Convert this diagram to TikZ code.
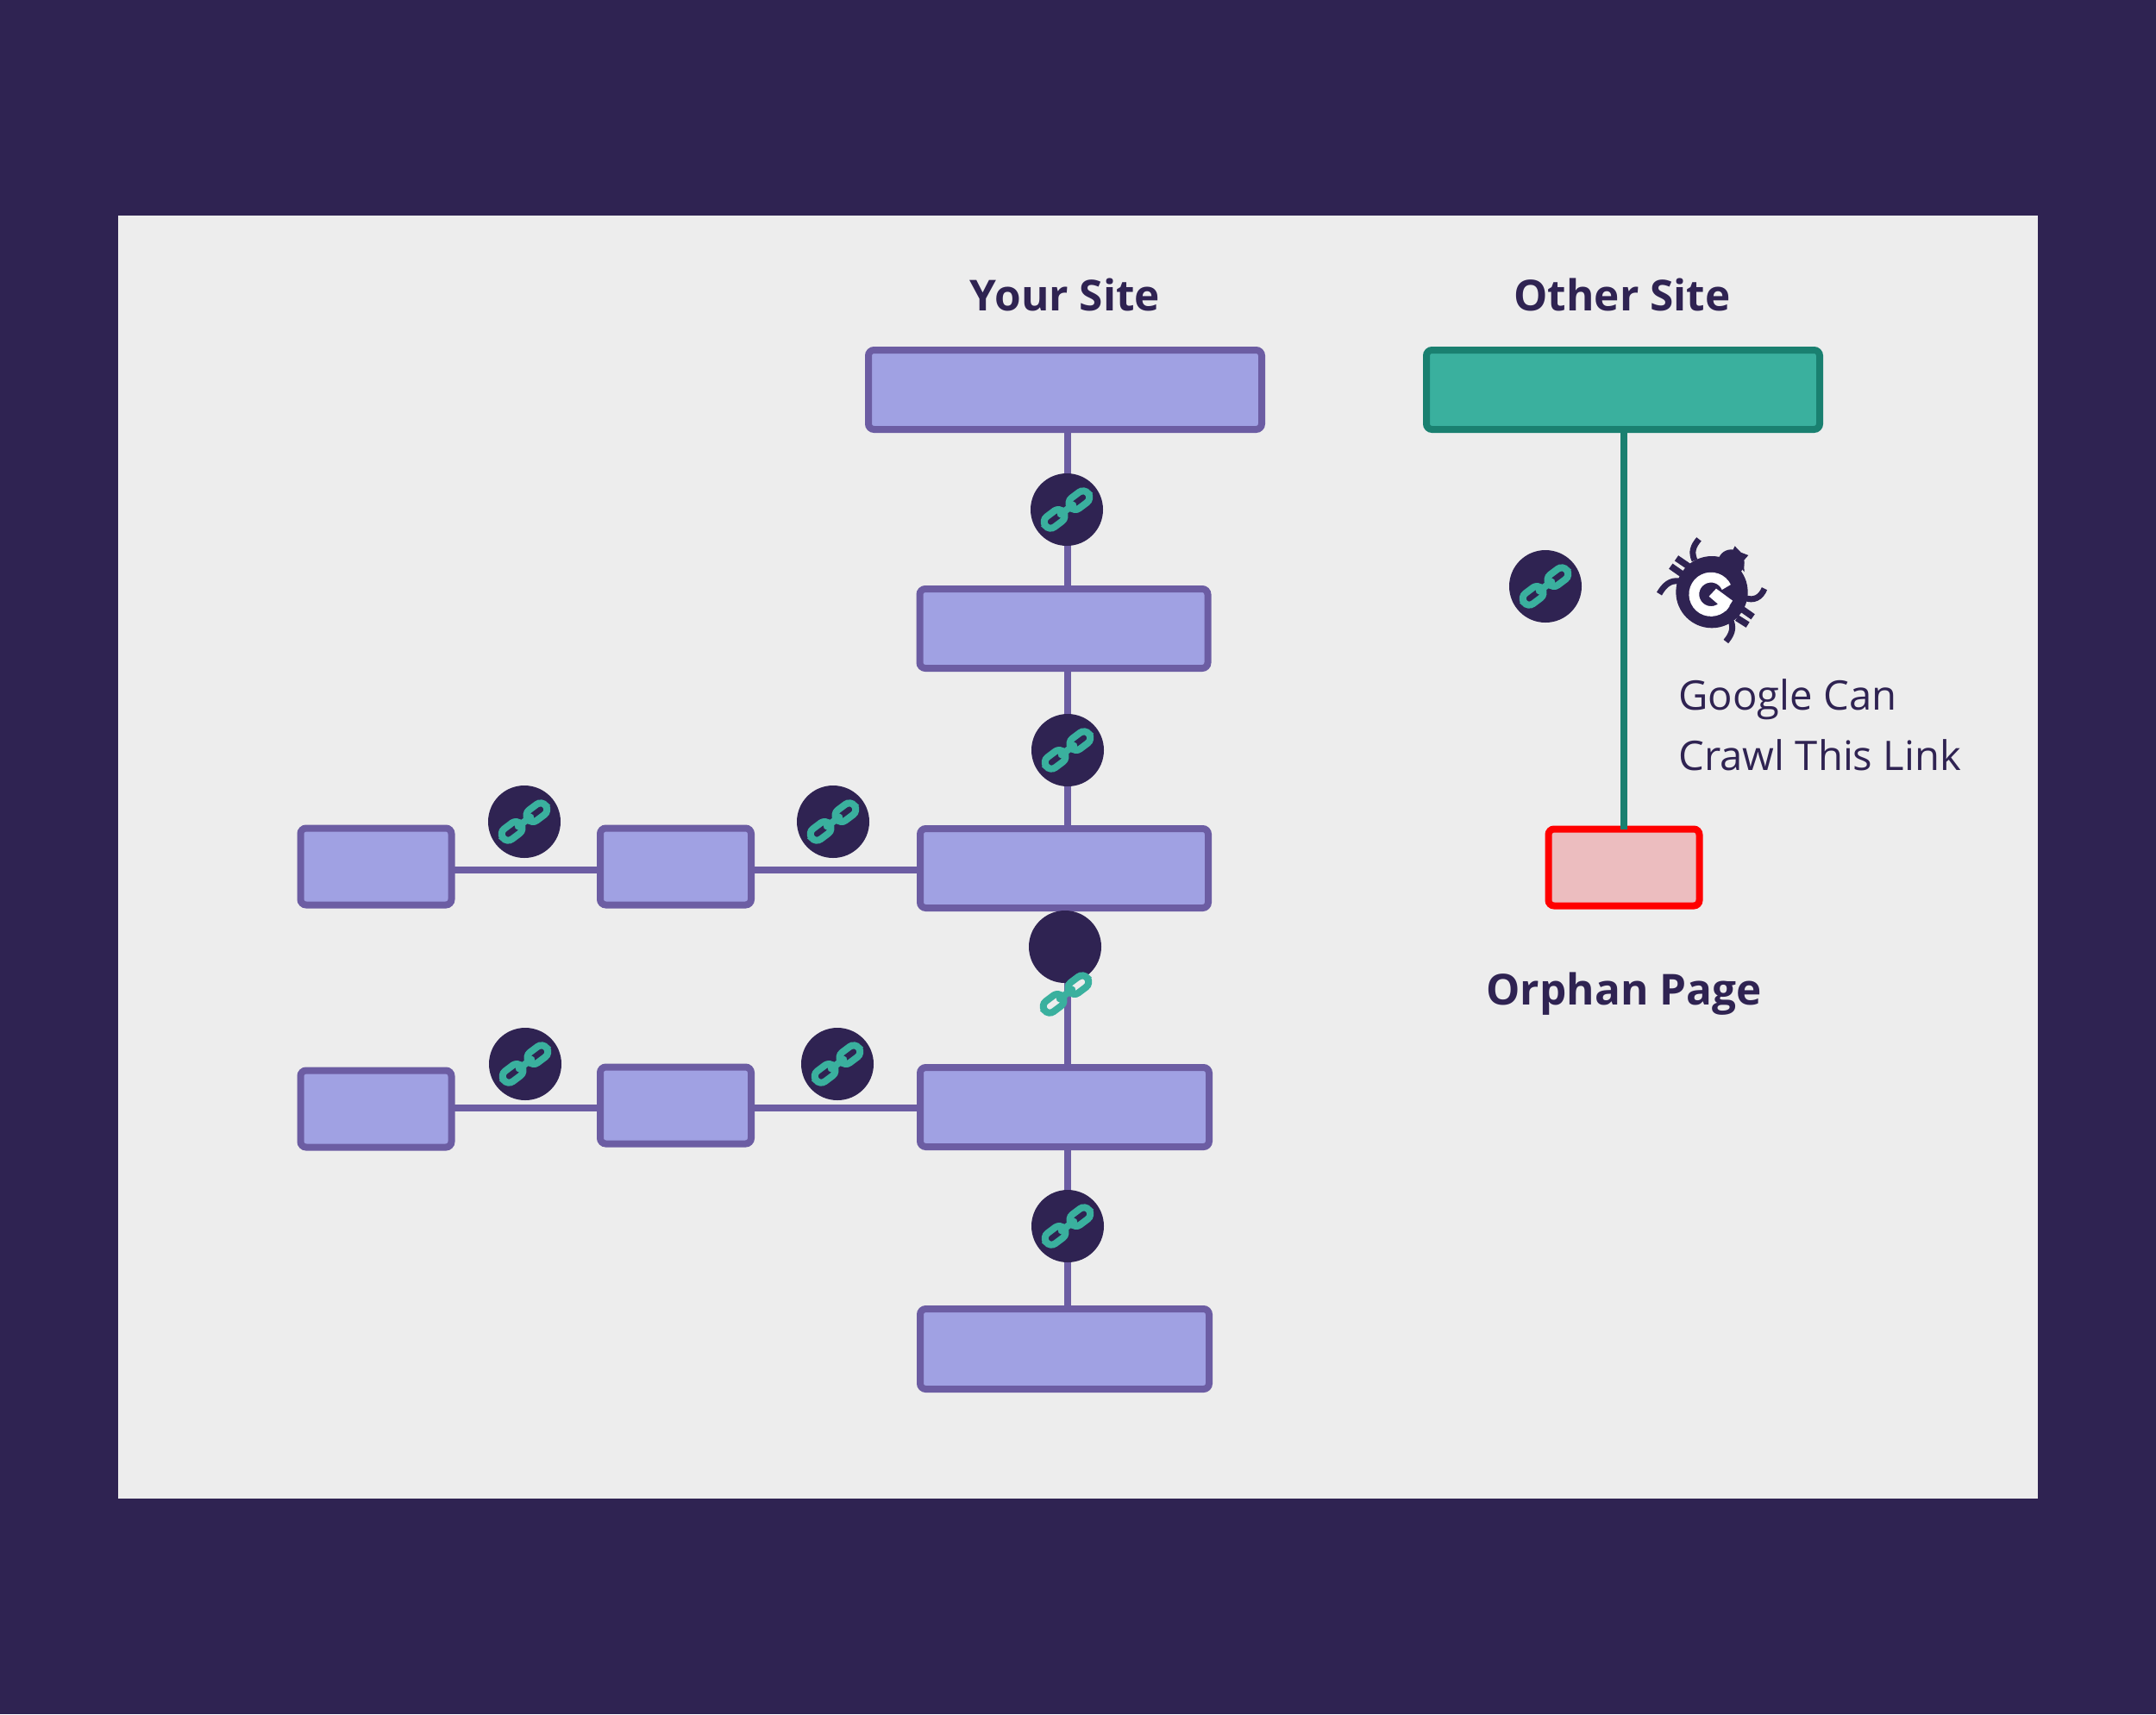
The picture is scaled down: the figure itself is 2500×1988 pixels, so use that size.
\documentclass[tikz,border=0pt]{standalone}
\usepackage{fontspec}
\setmainfont{Open Sans}
\definecolor{bgc}{HTML}{2F2352}
\definecolor{panelc}{HTML}{EDEDED}
\definecolor{boxf}{HTML}{A0A1E3}
\definecolor{boxs}{HTML}{6C5DA3}
\definecolor{teal1}{HTML}{3AB09E}
\definecolor{teal2}{HTML}{1A8070}
\definecolor{orphf}{HTML}{ECBDBF}
\tikzset{
 pagebox/.style={draw=boxs,fill=boxf,line width=3.2pt,rounded corners=2.6pt,inner sep=0pt,outer sep=0pt},
 otherbox/.style={pagebox,draw=teal2,fill=teal1},
 orphanbox/.style={pagebox,draw=red,fill=orphf},
 linkline/.style={draw=boxs,line width=3.2pt},
 otherline/.style={draw=teal2,line width=3.2pt},
 disc/.style={circle,fill=bgc,minimum size=33.6pt,inner sep=0pt,outer sep=0pt},
 title/.style={anchor=base,text=bgc,font=\fontsize{19.8}{24}\selectfont\bfseries},
 note/.style={anchor=base west,inner sep=0pt,text=bgc,font=\fontsize{18.9}{22}\selectfont},
 chain/.pic={
  \begin{scope}[rotate=37]
   \draw[teal1,line width=3.2pt,rounded corners=3pt] (5,-7.5) rectangle (31,7.5);
   \draw[teal1,line width=3.2pt,rounded corners=3pt] (-31,-7.5) rectangle (-5,7.5);
   \draw[teal1,line width=3.2pt,line cap=round] (-9,0) -- (9,0);
  \end{scope}
 }
}
\begin{document}
\begin{tikzpicture}[x=0.4pt,y=-0.4pt]
\useasboundingbox (0,0) rectangle (2500,1988);
\fill[bgc] (0,0) rectangle (2500,1988);
\fill[panelc] (137,250) rectangle (2363,1738);
% boxes
\newcommand{\pbox}[6]{\node[#1,minimum width=#5*0.4pt,minimum height=#6*0.4pt] (#2) at (#3,#4) {};}
\pbox{pagebox}{a}{1235}{452}{456}{92}
\pbox{pagebox}{b}{1233.5}{729}{334}{92}
\pbox{pagebox}{c}{1234}{1007}{334}{92}
\pbox{pagebox}{c1}{436}{1005}{175}{89}
\pbox{pagebox}{c2}{783.5}{1005}{175}{89}
\pbox{pagebox}{d}{1234.5}{1284}{335}{92}
\pbox{pagebox}{d1}{436}{1286}{175}{89}
\pbox{pagebox}{d2}{783.5}{1282}{175}{89}
\pbox{pagebox}{e}{1234.5}{1564.5}{335}{93}
\pbox{otherbox}{o}{1882}{452}{456}{92}
\pbox{orphanbox}{p}{1883}{1006}{175}{89}
% connectors
\coordinate (vx) at (1238,0);
\coordinate (hc) at (0,1009);
\coordinate (hd) at (0,1285);
\coordinate (gx) at (1883,0);
\draw[linkline] (a.south -| vx) -- (b.north -| vx);
\draw[linkline] (b.south -| vx) -- (c.north -| vx);
\draw[linkline] (c.south -| vx) -- (d.north -| vx);
\draw[linkline] (d.south -| vx) -- (e.north -| vx);
\draw[linkline] (c1.east |- hc) -- (c2.west |- hc);
\draw[linkline] (c2.east |- hc) -- (c.west |- hc);
\draw[linkline] (d1.east |- hd) -- (d2.west |- hd);
\draw[linkline] (d2.east |- hd) -- (d.west |- hd);
\draw[otherline] (o.south -| gx) -- (p.north -| gx);
% link discs
\foreach \n/\x/\y in {k1/1237/591,k2/1238/870,k3/608/953,k4/966/953,k5/609/1234,k6/971/1234,k7/1238/1422,k8/1792/680}{
  \node[disc] (\n) at (\x,\y) {};
  \pic at (\n) {chain};
}
\node[disc] (k9) at (1235,1098) {};
\coordinate (k9c) at (1236,1153);
\pic at (k9c) {chain};
% crawler
\begin{scope}[shift={(1900,600)},x=0.1333pt,y=-0.1333pt]
 \fill[bgc] (255,260) circle (125);
 \fill[bgc] (322,158) circle (46);
 \fill[bgc] (335,100) -- (356,122) -- (382,132) -- (366,150) -- (368,190) -- (320,130) -- cycle;
 \draw[bgc,line width=2.8pt] (195,150) .. controls (182,120) and (190,100) .. (210,76);
 \draw[bgc,line width=2.8pt] (140,222) .. controls (110,218) and (90,235) .. (72,266);
 \draw[bgc,line width=2.8pt] (370,280) .. controls (400,292) and (425,280) .. (438,248);
 \draw[bgc,line width=2.8pt] (322,362) .. controls (332,390) and (322,410) .. (304,432);
 \draw[bgc,line width=3pt] (132,142) -- (176,172);
 \draw[bgc,line width=3pt] (112,170) -- (152,198);
 \draw[bgc,line width=3pt] (358,318) -- (398,346);
 \draw[bgc,line width=3pt] (342,350) -- (380,374);
 \draw[white,line width=4.7pt] (305.5,243) arc[start angle=-25,end angle=-329,radius=59];
 \fill[white] (270,248) -- (327,290) -- (305,325) -- (280,325) -- (280,305) -- (245,275) -- cycle;
\end{scope}
% text
\node[title] (t1) at (1235,360.5) {Your Site};
\node[title] (t2) at (1881,360.5) {Other Site};
\node[title] (t3) at (1883,1165.5) {Orphan Page};
\node[note] (n1) at (1946,823) {Google Can};
\node[note] (n2) at (1946,893) {Crawl This Link};
\end{tikzpicture}
\end{document}
